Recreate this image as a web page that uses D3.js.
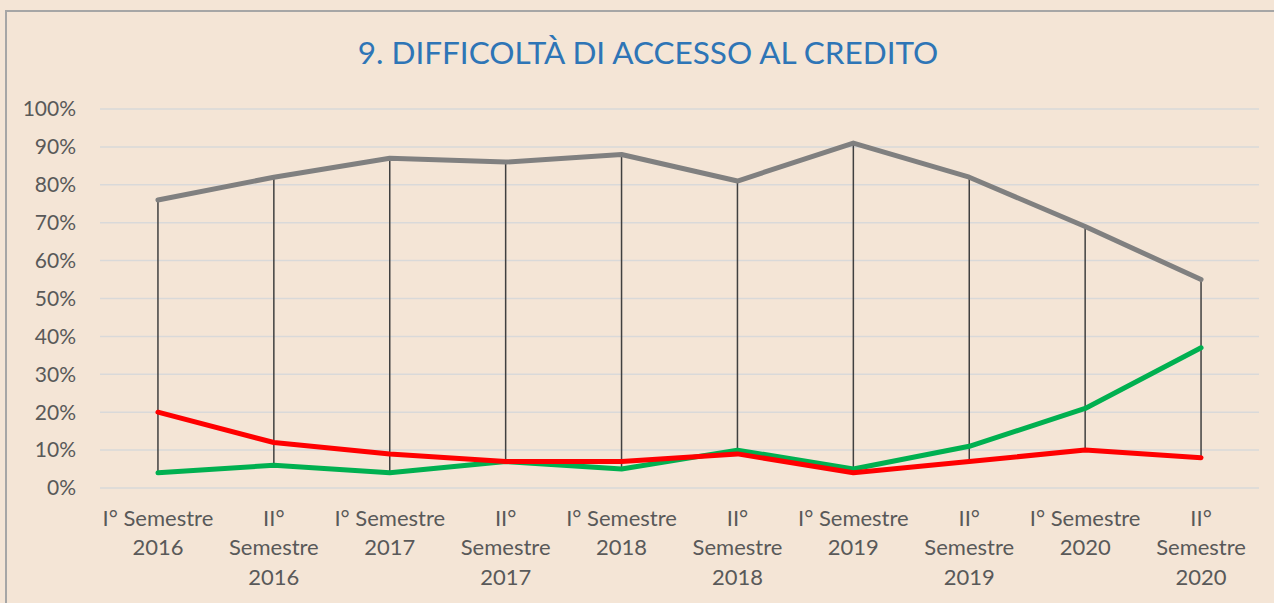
<!DOCTYPE html>
<html>
<head>
<meta charset="utf-8">
<script src="https://cdn.jsdelivr.net/npm/d3@7"></script>
<style>
  html, body { margin: 0; padding: 0; background: #F4E5D6; }
  svg { display: block; }
</style>
</head>
<body>
<svg id="chart" width="1274" height="603"></svg>
<script>
// chart data
const categories = [
  'I° Semestre\n2016', 'II°\nSemestre\n2016',
  'I° Semestre\n2017', 'II°\nSemestre\n2017',
  'I° Semestre\n2018', 'II°\nSemestre\n2018',
  'I° Semestre\n2019', 'II°\nSemestre\n2019',
  'I° Semestre\n2020', 'II°\nSemestre\n2020'
];
const grayValues = [76, 82, 87, 86, 88, 81, 91, 82, 69, 55];
const greenValues = [4, 6, 4, 7, 5, 10, 5, 11, 21, 37];
const redValues = [20, 12, 9, 7, 7, 9, 4, 7, 10, 8];
const yTicks = [0, 10, 20, 30, 40, 50, 60, 70, 80, 90, 100];
const title = '9. DIFFICOLTÀ DI ACCESSO AL CREDITO';

const width = 1274;
const height = 603;
const font = 'Lato, "Noto Sans", sans-serif';

const svg = d3.select('#chart');

// outer frame (runs past the right and bottom edges)
svg.append('rect')
  .attr('x', 6).attr('y', 11)
  .attr('width', width + 20).attr('height', height + 20)
  .attr('fill', '#F4E5D6')
  .attr('stroke', '#A6A6A6')
  .attr('stroke-width', 2);

svg.append('text')
  .attr('x', 648)
  .attr('y', 64)
  .attr('text-anchor', 'middle')
  .attr('font-family', font)
  .attr('font-size', 31.5)
  .attr('fill', '#2E75B6')
  .text(title);

const x = d3.scaleBand()
  .domain(categories)
  .range([100, 1259]);

const y = d3.scaleLinear()
  .domain([0, 100])
  .range([488, 109]);

const cx = d => x(d) + x.bandwidth() / 2;

// gridlines
svg.append('g')
  .selectAll('line')
  .data(yTicks)
  .enter()
  .append('line')
  .attr('x1', 100)
  .attr('x2', 1259)
  .attr('y1', d => y(d))
  .attr('y2', d => y(d))
  .attr('stroke', '#D9D9D9')
  .attr('stroke-width', 1.5);

// y labels
svg.append('g')
  .selectAll('text')
  .data(yTicks)
  .enter()
  .append('text')
  .attr('x', 76)
  .attr('y', d => y(d))
  .attr('dy', '0.35em')
  .attr('text-anchor', 'end')
  .attr('font-family', font)
  .attr('font-size', 21)
  .attr('fill', '#595959')
  .text(d => `${d}%`);

// x labels
const xLabels = svg.append('g')
  .selectAll('text')
  .data(categories)
  .enter()
  .append('text')
  .attr('text-anchor', 'middle')
  .attr('font-family', font)
  .attr('font-size', 22)
  .attr('fill', '#595959');

xLabels.selectAll('tspan')
  .data(d => d.split('\n').map(line => ({ line, c: d })))
  .enter()
  .append('tspan')
  .attr('x', d => cx(d.c))
  .attr('y', (d, i) => 518 + i * 29.5)
  .attr('dy', '0.35em')
  .text(d => d.line);

// high-low lines
const highs = categories.map((c, i) => Math.max(grayValues[i], greenValues[i], redValues[i]));
const lows = categories.map((c, i) => Math.min(grayValues[i], greenValues[i], redValues[i]));

svg.append('g')
  .selectAll('line')
  .data(categories)
  .enter()
  .append('line')
  .attr('x1', d => cx(d))
  .attr('x2', d => cx(d))
  .attr('y1', (d, i) => y(highs[i]))
  .attr('y2', (d, i) => y(lows[i]))
  .attr('stroke', '#404040')
  .attr('stroke-width', 1.5);

const line = d3.line()
  .x((d, i) => cx(categories[i]))
  .y(d => y(d));

const series = [
  { values: grayValues, color: '#808080' },
  { values: greenValues, color: '#00B050' },
  { values: redValues, color: '#FF0000' }
];

svg.append('g')
  .selectAll('path')
  .data(series)
  .enter()
  .append('path')
  .attr('d', d => line(d.values))
  .attr('fill', 'none')
  .attr('stroke', d => d.color)
  .attr('stroke-width', 5)
  .attr('stroke-linejoin', 'round')
  .attr('stroke-linecap', 'round');
</script>
</body>
</html>
